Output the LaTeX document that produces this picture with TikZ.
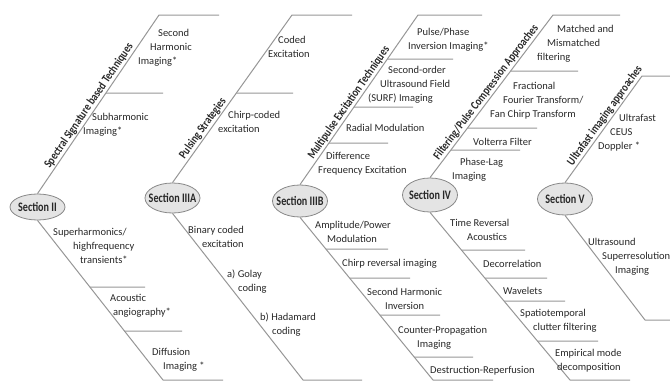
\documentclass[tikz,border=0pt]{standalone}
\usepackage{graphicx}
\usepackage{fontspec}
\setmainfont{Carlito}
\usetikzlibrary{shapes.geometric}
\definecolor{lncol}{RGB}{150,150,150}
\definecolor{elfill}{RGB}{228,228,228}
\definecolor{eldraw}{RGB}{135,135,135}
\definecolor{txtcol}{RGB}{40,40,40}
\newcommand\lines[1]{\begin{tabular}[t]{@{}l@{}}#1\end{tabular}}
\newcommand\cond[1]{\scalebox{0.82}[1]{#1}}
\newcommand\sectxt[1]{\makebox[0pt]{\scalebox{0.78}[1]{#1}}}
\newcommand\sepline[4]{\draw[ln] (intersection of #1--#2 and 0,#3--1,#3) -- (#4,#3);}
\tikzset{
  ln/.style={draw=lncol, line width=1pt},
  sec/.style={ellipse, draw=eldraw, fill=elfill, line width=0.8pt, minimum width=55pt,
    inner sep=0pt, font=\bfseries\fontsize{13}{15}\selectfont, text=txtcol},
  txt/.style={anchor=base west, inner sep=0pt, font=\fontsize{10.5}{14}\selectfont, text=txtcol},
  lbl/.style={sloped, above, inner sep=1pt, font=\bfseries\fontsize{12}{14}\selectfont, text=txtcol},
}
\begin{document}
\begin{tikzpicture}[x=1pt, y=-1pt]
\useasboundingbox (0,0) rectangle (670,383);

% section ellipses
\node[sec, minimum height=26pt] (s2) at (37.5,207) {\sectxt{Section II}};
\node[sec, minimum height=30pt] (s3a) at (172.5,198) {\sectxt{Section IIIA}};
\node[sec, minimum height=32pt] (s3b) at (300,201) {\sectxt{Section IIIB}};
\node[sec, minimum height=34pt] (s4) at (430,195) {\sectxt{Section IV}};
\node[sec, minimum height=32pt] (s5) at (565,199) {\sectxt{Section V}};

% corner coordinates
\coordinate (u2) at (159,15);   \coordinate (u2e) at (219,15);
\coordinate (d2) at (163,380);  \coordinate (d2e) at (223,380);
\coordinate (u3a) at (292,15);  \coordinate (u3ae) at (352,15);
\coordinate (d3a) at (303,380); \coordinate (d3ae) at (362,380);
\coordinate (u3b) at (418,15);  \coordinate (u3be) at (482,15);
\coordinate (d3b) at (433,380); \coordinate (d3be) at (493,380);
\coordinate (u4) at (553,15);   \coordinate (u4e) at (620,15);
\coordinate (d4) at (570,380);  \coordinate (d4e) at (630,380);
\coordinate (u5) at (642,76);   \coordinate (u5e) at (670,76);
\coordinate (d5) at (645,320);  \coordinate (d5e) at (670,320);

% Section II
\draw[ln] (s2.north) -- node[lbl, pos=0.47] {\cond{Spectral Signature based Techniques}} (u2) -- (u2e);
\sepline{s2.north}{u2}{93}{163}
\draw[ln] (s2.south) -- (d2) -- (d2e);
\sepline{s2.south}{d2}{287}{145}
\sepline{s2.south}{d2}{331}{182}

% Section IIIA
\draw[ln] (s3a.north) -- node[lbl, pos=0.30] {\cond{Pulsing Strategies}} (u3a) -- (u3ae);
\sepline{s3a.north}{u3a}{93}{293}
\draw[ln] (s3a.south) -- (d3a) -- (d3ae);

% Section IIIB
\draw[ln] (s3b.north) -- node[lbl, pos=0.46] {\cond{Multipulse Excitation Techniques}} (u3b) -- (u3be);
\sepline{s3b.north}{u3b}{59}{453}
\sepline{s3b.north}{u3b}{107}{413}
\sepline{s3b.north}{u3b}{143}{388}
\draw[ln] (s3b.south) -- (d3b) -- (d3be);
\sepline{s3b.south}{d3b}{249}{388}
\sepline{s3b.south}{d3b}{278}{410}
\sepline{s3b.south}{d3b}{315}{440}
\sepline{s3b.south}{d3b}{357}{473}

% Section IV
\draw[ln] (s4.north) -- node[lbl, pos=0.50] {\cond{Filtering/Pulse Compression Approaches}} (u4) -- (u4e);
\sepline{s4.north}{u4}{71}{578}
\sepline{s4.north}{u4}{128}{537}
\sepline{s4.north}{u4}{150}{520}
\draw[ln] (s4.south) -- (d4) -- (d4e);
\sepline{s4.south}{d4}{250}{525}
\sepline{s4.south}{d4}{278}{547}
\sepline{s4.south}{d4}{301}{565}
\sepline{s4.south}{d4}{341}{598}

% Section V
\draw[ln] (s5.north) -- node[lbl, pos=0.59] {\cond{Ultrafast imaging approaches}} (u5) -- (u5e);
\draw[ln] (s5.south) -- (d5) -- (d5e);

% texts
\node[txt] (t1) at (138,36.5) {\lines{\hspace*{20pt}Second\\\hspace*{12pt}Harmonic\\Imaging*}};
\node[txt] (t2) at (83,120.5) {\lines{\hspace*{9pt}Subharmonic\\Imaging*}};
\node[txt] (t3) at (53,235.5) {\lines{Superharmonics/\\\hspace*{20pt}highfrequency\\\hspace*{27pt}transients*}};
\node[txt] (t4) at (110,301.5) {\lines{Acoustic\\\hspace*{3pt}angiography*}};
\node[txt] (t5) at (152,355.5) {\lines{Diffusion\\\hspace*{11pt}Imaging *}};
\node[txt] (t6) at (268,43.5) {\lines{\hspace*{10pt}Coded\\Excitation}};
\node[txt] (t7) at (218,118.5) {\lines{\hspace*{10pt}Chirp-coded\\excitation}};
\node[txt] (t8) at (188,233.5) {\lines{Binary coded\\\hspace*{14pt}excitation}};
\node[txt] (t9) at (227,277.5) {\lines{a) Golay\\\hspace*{11pt}coding}};
\node[txt] (t10) at (260,320.5) {\lines{b) Hadamard\\\hspace*{12pt}coding}};
\node[txt] (t11) at (408,35.5) {\lines{\hspace*{9pt}Pulse/Phase\\Inversion Imaging*}};
\node[txt] (t12) at (368,73.5) {\lines{\hspace*{20pt}Second-order\\\hspace*{12pt}Ultrasound Field\\(SURF) Imaging}};
\node[txt] (t13) at (346,131.5) {Radial Modulation};
\node[txt] (t14) at (318,159.5) {\lines{\hspace*{8pt}Difference\\Frequency Excitation}};
\node[txt] (t15) at (315,228.5) {\lines{Amplitude/Power\\\hspace*{12pt}Modulation}};
\node[txt] (t16) at (342,266.5) {Chirp reversal imaging};
\node[txt] (t17) at (367,295.5) {\lines{Second Harmonic\\\hspace*{18pt}Inversion}};
\node[txt] (t18) at (398,333.5) {\lines{Counter-Propagation\\\hspace*{19pt}Imaging}};
\node[txt] (t19) at (430,373.5) {Destruction-Reperfusion};
\node[txt] (t20) at (537,32.5) {\lines{\hspace*{20pt}Matched and\\\hspace*{10pt}Mismatched\\filtering}};
\node[txt] (t21) at (490,89.5) {\lines{\hspace*{23pt}Fractional\\\hspace*{13pt}Fourier Transform/\\Fan Chirp Transform}};
\node[txt] (t22) at (473,145.5) {Volterra Filter};
\node[txt] (t23) at (452,165.5) {\lines{\hspace*{8pt}Phase-Lag\\Imaging}};
\node[txt] (t24) at (450,226.5) {\lines{Time Reversal\\\hspace*{17pt}Acoustics}};
\node[txt] (t25) at (483,267.5) {Decorrelation};
\node[txt] (t26) at (503,294.5) {Wavelets};
\node[txt] (t27) at (520,316.5) {\lines{Spatiotemporal\\\hspace*{13pt}clutter filtering}};
\node[txt] (t28) at (555,356.5) {\lines{Empirical mode\\\hspace*{2pt}decomposition}};
\node[txt] (t29) at (598,121.5) {\lines{\hspace*{21pt}Ultrafast\\\hspace*{12pt}CEUS\\Doppler *}};
\node[txt] (t30) at (588,245.5) {\lines{Ultrasound\\\hspace*{14pt}Superresolution\\\hspace*{27pt}Imaging}};
\end{tikzpicture}
\end{document}
